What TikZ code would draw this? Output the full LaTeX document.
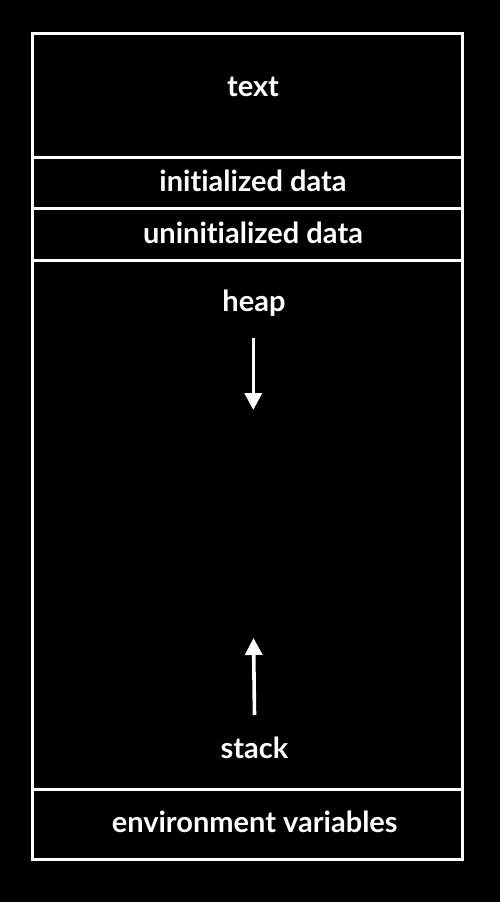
\documentclass[tikz,border=0pt]{standalone}
\usepackage{fontspec}
\setmainfont{Lato}[Ligatures={NoCommon,TeX}]
\usetikzlibrary{arrows.meta}

\tikzset{
  seg/.style={draw=white!90, line width=3pt, minimum width=429.5pt, inner sep=0pt},
  lbl/.style={text=white, anchor=base, font=\fontsize{29}{34}\selectfont\bfseries},
  growarrow/.style={white, line width=3.6pt, -{Triangle[width=17pt,length=17pt]}}
}

\begin{document}
\begin{tikzpicture}[x=1pt,y=-1pt]
		\fill[black] (0,0) rectangle (500,902);
		\useasboundingbox (0,0) rectangle (500,902);
		
		\node[seg, minimum height=124pt] (textseg) at (247.25,95) {};
		\node[seg, minimum height=51pt] (initseg) at (247.25,182.5) {};
		\node[seg, minimum height=52pt] (bssseg) at (247.25,234) {};
		\node[seg, minimum height=529pt] (heapseg) at (247.25,524.5) {};
		\node[seg, minimum height=70pt] (envseg) at (247.25,824) {};
		
		\node[lbl] (textlbl) at (253,96) {text};
		\node[lbl] (initlbl) at (253,191.5) {initialized data};
		\node[lbl] (bsslbl) at (253,243) {uninitialized data};
		\node[lbl] (heaplbl) at (254,311) {heap};
		\node[lbl] (stacklbl) at (254.5,758) {stack};
		\node[lbl] (envlbl) at (254.7,832.5) {environment variables};
		
		\coordinate (heaptop) at (253.3,338);
		\coordinate (heapend) at (253.3,410);
		\coordinate (stackbot) at (254.5,715);
		\coordinate (stackend) at (253.5,638);
		\draw[growarrow] (heaptop) -- (heapend);
		\draw[growarrow] (stackbot) -- (stackend);
\end{tikzpicture}
\end{document}
